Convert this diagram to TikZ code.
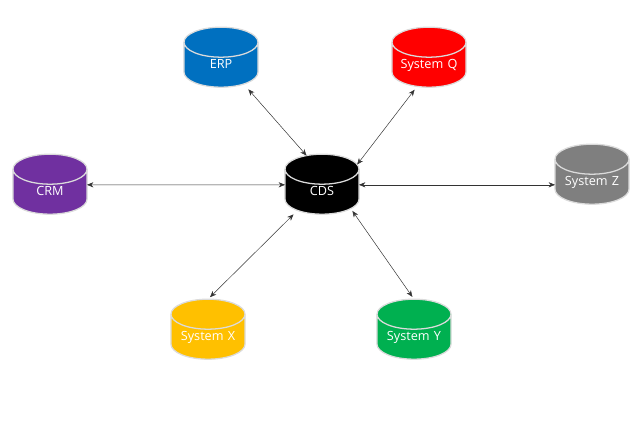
\documentclass[tikz,border=0pt]{standalone}
\usepackage{fontspec}
\setmainfont{Open Sans}
\usepackage{tikz}
\usetikzlibrary{arrows.meta, shapes.geometric}

\definecolor{erpblue}{HTML}{0070C0}
\definecolor{crmpurple}{HTML}{7030A0}
\definecolor{xyellow}{HTML}{FFC000}
\definecolor{ygreen}{HTML}{00B050}
\definecolor{zgray}{HTML}{7F7F7F}

\begin{document}
\begin{tikzpicture}[
  x=0.025cm, y=-0.025cm,
  >={Stealth[length=1.6mm, width=1.3mm]},
  store/.style={cylinder, shape border rotate=90, aspect=0.5, draw=black!14, line width=0.9pt,
    cylinder uses custom fill, cylinder body fill=#1, cylinder end fill=#1,
    minimum width=1.85cm, minimum height=1.5cm, text width=1.5cm, text height=7pt, text depth=2pt,
    inner sep=0pt, outer sep=0pt, align=center, text=white, font=\fontsize{9}{11}\selectfont},
  arr/.style={<->, line width=0.35pt, black!80},
]
\useasboundingbox (0,0) rectangle (640,441);

% hub
\node[store=black] (cds) at (322,192) {CDS};

% systems
\node[store=erpblue] (erp) at (221,65) {ERP};
\node[store=red] (sysq) at (429,65) {System Q};
\node[store=crmpurple] (crm) at (50,192) {CRM};
\node[store=zgray] (sysz) at (592,182) {System Z};
\node[store=xyellow] (sysx) at (208,337) {System X};
\node[store=ygreen] (sysy) at (414,337) {System Y};

% Arrows
\draw[arr, shorten <=5pt] (erp.-40) -- (cds.113);
\draw[arr, shorten <=3pt] (sysq.241) -- (cds.38);
\draw[arr] (crm.11) -- (cds.169);
\draw[arr] (cds.11) -- (cds.11 -| sysz.west);
\draw[arr, shorten <=2pt, shorten >=4pt] (sysx.90) -- (cds.217);
\draw[arr, shorten <=2pt, shorten >=2pt] (sysy.90) -- (cds.-30);

\end{tikzpicture}
\end{document}
